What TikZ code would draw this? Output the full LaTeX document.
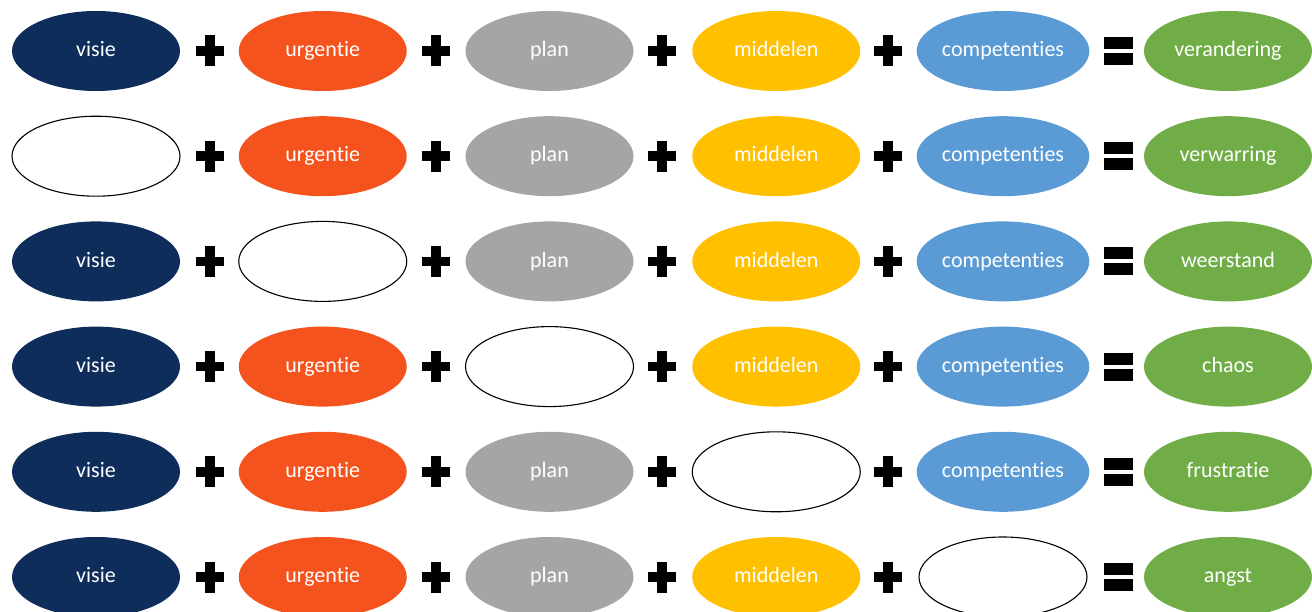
\documentclass[tikz,border=0pt]{standalone}
\usepackage{fontspec}
\setmainfont{Carlito}[Ligatures=NoCommon]
\usetikzlibrary{shapes.geometric}
\definecolor{cnavy}{HTML}{0E2D5A}
\definecolor{corange}{HTML}{F4531E}
\definecolor{cgrey}{HTML}{A5A5A5}
\definecolor{cyellow}{HTML}{FFC000}
\definecolor{cblue}{HTML}{5B9BD5}
\definecolor{cgreen}{HTML}{70AD47}
\tikzset{
  term/.style={ellipse, minimum width=168pt, minimum height=80pt, inner sep=0pt,
    text=white, font=\fontsize{22}{26}\selectfont, text height=2.4ex, text depth=0pt},
  blank/.style={term, draw=black, line width=1.1pt, fill=white},
  result/.style={term, fill=cgreen},
  pics/plussign/.style={code={
    \fill[black] (-14,-4.8) rectangle (14,4.8);
    \fill[black] (-4.8,-15.5) rectangle (4.8,15.5);}},
  pics/equalsign/.style={code={
    \fill[black] (-14.5,-14) rectangle (14.5,-2);
    \fill[black] (-14.5,2) rectangle (14.5,14);}},
}
\begin{document}
\begin{tikzpicture}[x=1pt,y=-1pt]
\useasboundingbox (0,0) rectangle (1312,612);
\clip (0,0) rectangle (1312,612);
\foreach \res [count=\r] in {verandering,verwarring,weerstand,chaos,frustratie,angst} {
  \pgfmathsetmacro\yy{51+105.2*(\r-1)}
  \pgfmathtruncatemacro\bl{\r-1}
  % the five ingredients; one of them left empty per row
  \foreach \lab/\col [count=\c] in {visie/cnavy,urgentie/corange,plan/cgrey,middelen/cyellow,competenties/cblue} {
    \pgfmathsetmacro\xx{96+226.75*(\c-1)}
    \ifnum\c=\bl
      \node[blank] (e\r-\c) at (\xx,\yy) {};
    \else
      \node[term, fill=\col] (e\r-\c) at (\xx,\yy) {\lab};
    \fi
  }
  % plus signs between the ingredients
  \foreach \c in {1,...,4} {
    \pgfmathsetmacro\xx{210+226*(\c-1)}
    \pic at (\xx,\yy) {plussign};
  }
  % equal sign and outcome
  \pic at (1118,\yy) {equalsign};
  \node[result] (out\r) at (1228,\yy) {\res};
}
\end{tikzpicture}
\end{document}
